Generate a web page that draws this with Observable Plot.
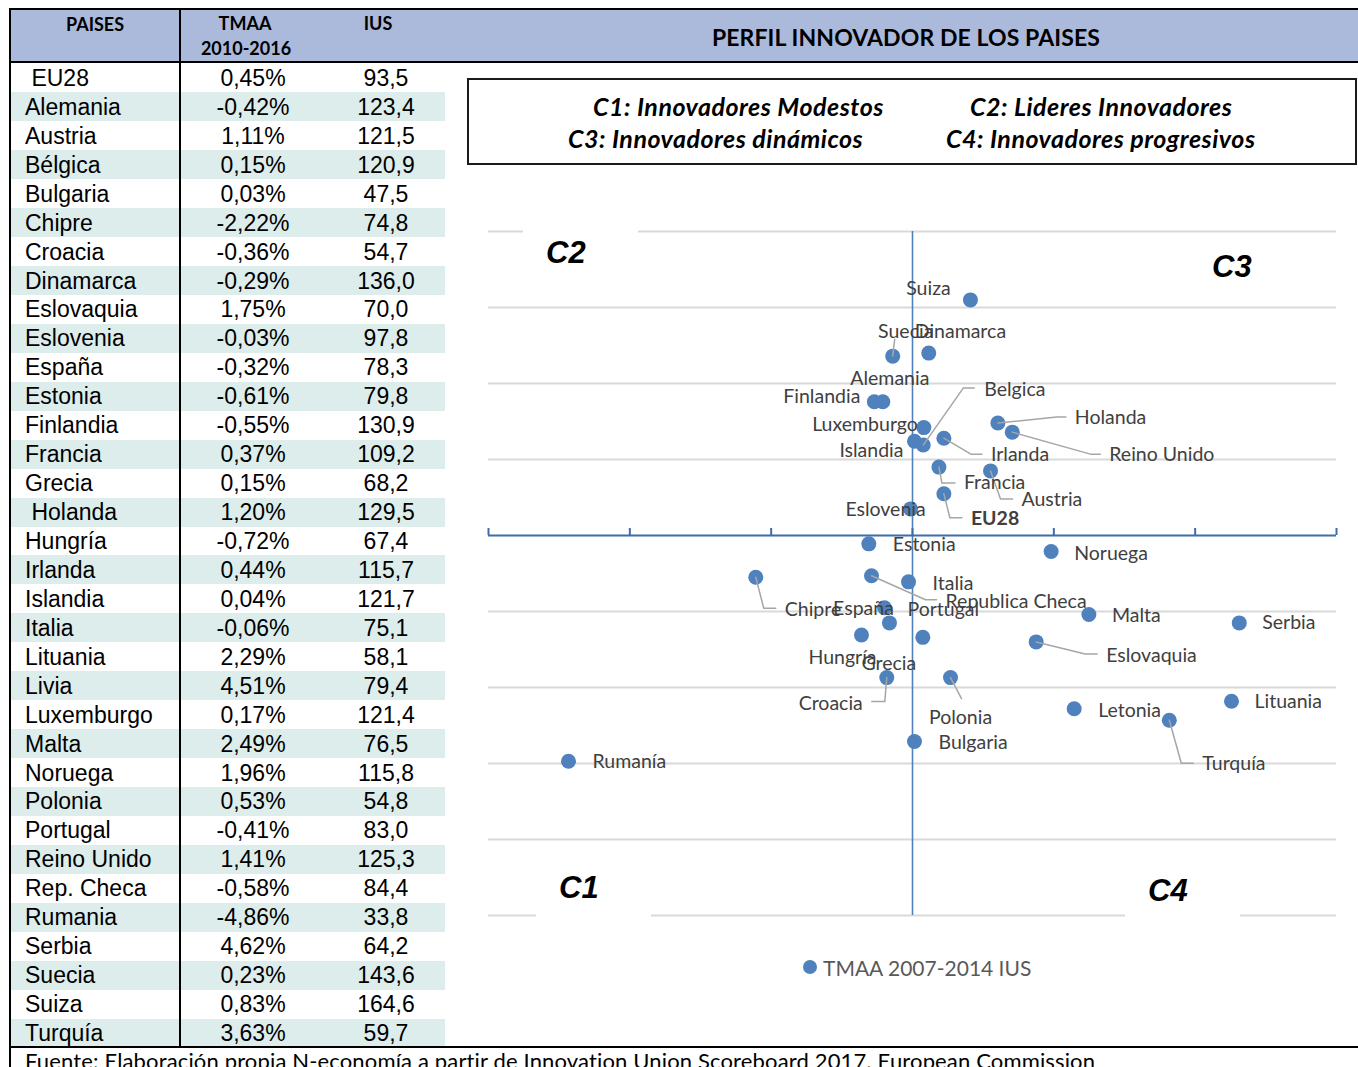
<!DOCTYPE html>
<html><head><meta charset="utf-8">
<script src="https://cdn.jsdelivr.net/npm/d3@7"></script>
<script src="https://cdn.jsdelivr.net/npm/@observablehq/plot@0.6"></script>
<style>
html,body{margin:0;padding:0;background:#fff;}
#page{position:relative;width:1358px;height:1067px;overflow:hidden;background:#fff;font-family:Lato,"Open Sans",sans-serif;}
.a{position:absolute;white-space:pre;}
#chart{position:absolute;left:470px;top:220px;}
</style></head><body><div id="page"></div>
<script>
// ---------- TABLE DATA ----------
const tableCountries = [" EU28","Alemania","Austria","Bélgica","Bulgaria","Chipre","Croacia","Dinamarca","Eslovaquia","Eslovenia","España","Estonia","Finlandia","Francia","Grecia"," Holanda","Hungría","Irlanda","Islandia","Italia","Lituania","Livia","Luxemburgo","Malta","Noruega","Polonia","Portugal","Reino Unido","Rep. Checa","Rumania","Serbia","Suecia","Suiza","Turquía"];
const tableTMAA = [0.45,-0.42,1.11,0.15,0.03,-2.22,-0.36,-0.29,1.75,-0.03,-0.32,-0.61,-0.55,0.37,0.15,1.20,-0.72,0.44,0.04,-0.06,2.29,4.51,0.17,2.49,1.96,0.53,-0.41,1.41,-0.58,-4.86,4.62,0.23,0.83,3.63];
const tableIUS = [93.5,123.4,121.5,120.9,47.5,74.8,54.7,136.0,70.0,97.8,78.3,79.8,130.9,109.2,68.2,129.5,67.4,115.7,121.7,75.1,58.1,79.4,121.4,76.5,115.8,54.8,83.0,125.3,84.4,33.8,64.2,143.6,164.6,59.7];
const tableHeaders = ["PAISES","TMAA\n2010-2016","IUS"];

// ---------- SCATTER DATA (TMAA 2007-2014 %, IUS score) ----------
const scatterNames = ["Suiza","Suecia","Dinamarca","Finlandia","Alemania","Luxemburgo","Islandia","Belgica","Irlanda","Holanda","Reino Unido","Francia","Austria","EU28","Eslovenia","Estonia","Noruega","Chipre","Republica Checa","Italia","Portugal","España","Hungría","Grecia","Croacia","Polonia","Bulgaria","Rumanía","Malta","Serbia","Eslovaquia","Letonia","Lituania","Turquía"];
const scatterTMAA = [0.41,-0.14,0.115,-0.27,-0.21,0.08,0.014,0.076,0.222,0.604,0.706,0.187,0.552,0.222,-0.014,-0.309,0.981,-1.109,-0.29,-0.028,-0.198,-0.163,-0.361,0.073,-0.182,0.269,0.014,-2.434,1.248,2.312,0.875,1.144,2.257,1.817];
const scatterIUS = [0.810,0.736,0.740,0.676,0.676,0.642,0.624,0.619,0.628,0.648,0.636,0.590,0.585,0.555,0.535,0.489,0.479,0.445,0.447,0.439,0.405,0.385,0.369,0.366,0.313,0.313,0.229,0.203,0.396,0.385,0.360,0.272,0.282,0.257];
const xTicks = [-3,-2,-1,0,1,2,3];
const yGrid = [0,0.1,0.2,0.3,0.4,0.5,0.6,0.7,0.8,0.9];
const xCross = 0, yCross = 0.5;
const chartTitle = "PERFIL INNOVADOR DE LOS PAISES";
const clusterLegend = ["C1: Innovadores Modestos","C2: Lideres Innovadores","C3: Innovadores dinámicos","C4: Innovadores progresivos"];
const quadrantNames = ["C1","C2","C3","C4"];
const seriesName = "TMAA 2007-2014 IUS";
const sourceText = "Fuente: Elaboración propia N-economía a partir de Innovation Union Scoreboard 2017. European Commission";

// ---------- LABEL LAYOUT (pixel offsets from each point) ----------
const labelLayout = {
  "Suiza":[-42,-11,"middle"],
  "Suecia":[13,-24,"middle",[[0,0],[2,-17]]],
  "Dinamarca":[-14,-21,"start"],
  "Finlandia":[-14,-5,"end"],
  "Alemania":[7,-23,"middle"],
  "Luxemburgo":[-6,-3,"end"],
  "Islandia":[-11,9,"end"],
  "Belgica":[61,-55,"start",[[0,0],[40,-57],[51,-57]]],
  "Irlanda":[47,17,"start",[[0,0],[27,16],[38,16]]],
  "Holanda":[77,-5,"start",[[0,0],[59,-6],[68,-6]]],
  "Reino Unido":[97,23,"start",[[0,0],[78,22],[88,22]]],
  "Francia":[25,16,"start",[[0,0],[3,16],[16,16]]],
  "Austria":[31,29,"start",[[0,0],[10,28],[22,28]]],
  "EU28":[27,25,"start",[[0,0],[6,24],[18,24]],true],
  "Eslovenia":[-25,1,"middle"],
  "Estonia":[24,1,"start"],
  "Noruega":[23,2,"start"],
  "Chipre":[29,32,"start",[[0,0],[8,31],[20,31]]],
  "Republica Checa":[74,26,"start",[[0,0],[54,24],[65,24]]],
  "Italia":[24,2,"start"],
  "Portugal":[23,2,"start"],
  "España":[-26,-14,"middle"],
  "Hungría":[-19,23,"middle"],
  "Grecia":[-34,26,"middle"],
  "Croacia":[-24,26,"end",[[0,0],[-2,24],[-15,24]]],
  "Polonia":[10,40,"middle",[[0,0],[11,21]]],
  "Bulgaria":[24,1,"start"],
  "Rumanía":[24,1,"start"],
  "Malta":[23,1,"start"],
  "Serbia":[23,0,"start"],
  "Eslovaquia":[70,14,"start",[[0,0],[49,12],[61,12]]],
  "Letonia":[24,2,"start"],
  "Lituania":[23,1,"start"],
  "Turquía":[33,44,"start",[[0,0],[12,43],[24,43]]]
};

const page = document.getElementById("page");
function box(css){const d=document.createElement("div");d.className="a";d.style.cssText=css;page.appendChild(d);return d;}
function txt(t,x,y,anchor,css){const d=box(css);d.textContent=t;d.style.left=x+"px";d.style.top=y+"px";
  const tx = anchor==="middle"?"-50%":anchor==="end"?"-100%":"0";d.style.transform=`translate(${tx},-50%)`;return d;}

// ---------- TABLE ----------
const fmtPct = v => v.toFixed(2).replace(".",",")+"%";
const fmtNum = v => v.toFixed(1).replace(".",",");
const row0 = 63.5, rowH = 28.94;
tableCountries.forEach((c,i)=>{
  const top = row0 + i*rowH;
  if(i%2===1) box(`left:11px;top:${top}px;width:434px;height:${rowH}px;background:#DCEDEC;`);
  const cy = top + rowH/2;
  const f = "font-family:'Liberation Sans',Arial,sans-serif;font-size:23px;color:#000;line-height:1;";
  txt(c,25,cy,"start",f);
  txt(fmtPct(tableTMAA[i]),253,cy,"middle",f);
  txt(fmtNum(tableIUS[i]),386,cy,"middle",f);
});
// header band
box("left:9px;top:8px;width:1349px;height:55px;background:#ABBADA;border-top:2px solid #000;border-bottom:2px solid #000;box-sizing:border-box;");
const hf = "font-family:Lato,sans-serif;font-weight:bold;font-size:18px;color:#000;line-height:1;";
txt(tableHeaders[0],95,24,"middle",hf);
const th = tableHeaders[1].split("\n");
txt(th[0],245,23,"middle",hf);
txt(th[1],246,48,"middle",hf);
txt(tableHeaders[2],378,23,"middle",hf);
txt(chartTitle,906,37,"middle","font-family:Lato,sans-serif;font-weight:bold;font-size:23px;letter-spacing:0.1px;color:#000;line-height:1;");
// borders
box("left:9px;top:8px;width:2px;height:1059px;background:#000;");
box("left:179px;top:8px;width:2px;height:1039px;background:#000;");
box("left:9px;top:1046px;width:1349px;height:2px;background:#000;");
txt(sourceText,25,1061,"start","font-family:Lato,sans-serif;font-size:22px;letter-spacing:0.15px;color:#000;line-height:1;");

// cluster legend box
box("left:467px;top:78px;width:890px;height:87px;border:2px solid #1a1a1a;box-sizing:border-box;background:#fff;");
const lf = "font-family:Lato,sans-serif;font-weight:bold;font-style:italic;font-size:25px;letter-spacing:0.5px;color:#000;line-height:1;";
txt(clusterLegend[0],593,106,"start",lf);
txt(clusterLegend[1],970,106,"start",lf);
txt(clusterLegend[2],568,138,"start",lf);
txt(clusterLegend[3],946,138,"start",lf);

// ---------- CHART ----------
const W = 880, H = 710, mL = 18, mR = 14, mT = 11, mB = 15;
const xDom = [-3,3], yDom = [0,0.9];
const kx = (W-mL-mR)/(xDom[1]-xDom[0]);
const ky = (H-mT-mB)/(yDom[1]-yDom[0]);
const TICK = 7;

const points = scatterNames.map((n,i)=>({name:n,x:scatterTMAA[i],y:scatterIUS[i]}));
const labels = points.map(p=>{const L=labelLayout[p.name];return {name:p.name,x:p.x+L[0]/kx,y:p.y-L[1]/ky,anchor:L[2],bold:!!L[4]};});
const leaders = [];
points.forEach(p=>{const L=labelLayout[p.name];if(L[3])L[3].forEach(([dx,dy])=>leaders.push({name:p.name,x:p.x+dx/kx,y:p.y-dy/ky}));});

const blue = "#4F81BD";
const labelColor = "#404040";
const textMark = (anchor,bold)=>Plot.text(labels.filter(l=>l.anchor===anchor && l.bold===bold),{x:"x",y:"y",text:"name",textAnchor:anchor,fill:labelColor,fontWeight:bold?"bold":"normal"});

const chart = Plot.plot({
  width:W,height:H,marginLeft:mL,marginRight:mR,marginTop:mT,marginBottom:mB,
  x:{domain:xDom,axis:null},
  y:{domain:yDom,axis:null},
  style:{fontFamily:"Lato, sans-serif",fontSize:"19.5px",background:"transparent",overflow:"visible"},
  marks:[
    Plot.ruleY(yGrid.filter(v=>v!==yCross),{stroke:"#D9D9D9",strokeWidth:2}),
    Plot.ruleX([xCross],{stroke:blue,strokeWidth:1.6}),
    Plot.ruleY([yCross],{stroke:"#3F6DAA",strokeWidth:2.2}),
    Plot.ruleX(xTicks,{x:d=>d,y1:yCross,y2:yCross+TICK/ky,stroke:"#3F6DAA",strokeWidth:2}),
    Plot.dot(points,{x:"x",y:"y",r:7.5,fill:blue}),
    Plot.line(leaders,{x:"x",y:"y",z:"name",stroke:"#A6A6A6",strokeWidth:1.5,curve:"linear"}),
    textMark("start",false),textMark("middle",false),textMark("end",false),textMark("start",true)
  ]
});
chart.id="chart";
page.appendChild(chart);

// quadrant labels (white boxes over gridlines)
const qf = "font-family:'Liberation Sans',Arial,sans-serif;font-weight:bold;font-style:italic;font-size:31px;color:#000;line-height:1;";
const qPos = {C1:[559,887],C2:[546,252],C3:[1212,266],C4:[1148,890]};
quadrantNames.forEach(q=>{
  const [x,y]=qPos[q];
  const b = box(`left:${x-23}px;top:${y-30}px;width:115px;height:60px;background:#fff;display:flex;align-items:center;padding-left:23px;box-sizing:border-box;z-index:2;${qf}`);
  b.textContent=q;
});

// series legend
box(`left:803px;top:959.5px;width:14px;height:14px;border-radius:50%;background:${blue};`);
txt(seriesName,823,967,"start","font-family:Lato,sans-serif;font-size:21px;color:#595959;line-height:1;");
</script></body></html>
